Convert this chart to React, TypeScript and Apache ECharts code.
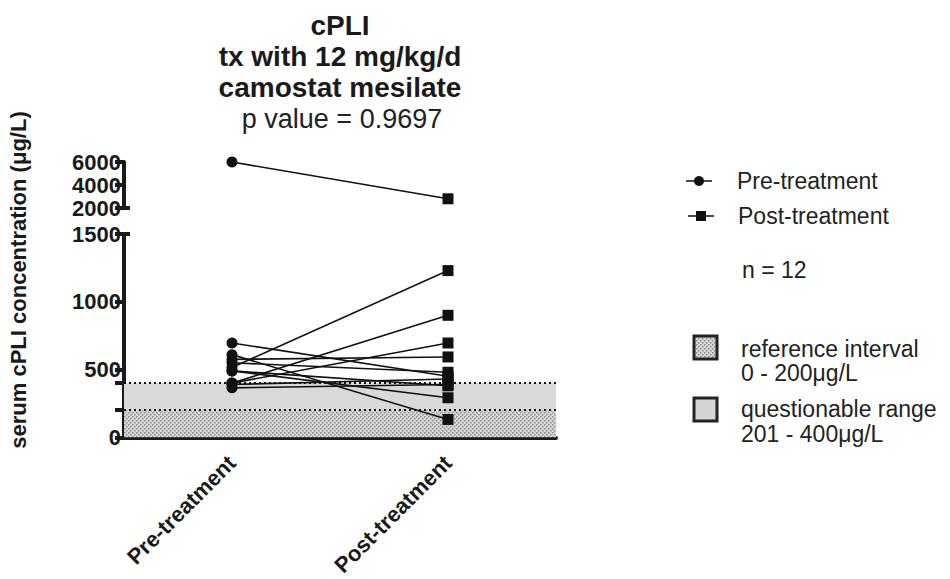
import React, { useEffect, useRef } from "react";
import * as echarts from "echarts";

const categories = ["Pre-treatment", "Post-treatment"];
// paired values per dog (µg/L)
const preValues = [6000, 696, 610, 575, 550, 515, 490, 490, 400, 400, 390, 365];
const postValues = [2800, 450, 132, 593, 480, 1230, 380, 292, 900, 696, 430, 390];
const upperTicks = [2000, 4000, 6000];
const lowerTicks = [0, 500, 1000, 1500];
const lowerMinorTicks = [0, 200, 400, 500, 1000, 1500];
const referenceInterval = [0, 200];
const questionableRange = [200, 400];
const breakValue = 1500;

const FONT = "'Liberation Sans', Arial, Helvetica, sans-serif";

function makeDotPattern(): HTMLCanvasElement {
  const c = document.createElement("canvas");
  c.width = 4;
  c.height = 4;
  const ctx = c.getContext("2d")!;
  ctx.fillStyle = "#d6d6d6";
  ctx.fillRect(0, 0, 4, 4);
  ctx.fillStyle = "#8c8c8c";
  ctx.fillRect(0, 0, 1.5, 1.5);
  ctx.fillRect(2, 2, 1.5, 1.5);
  return c;
}

export default function App() {
  const ref = useRef<HTMLDivElement>(null);
  useEffect(() => {
    if (!ref.current) return;
    const chart = echarts.init(ref.current, null, { renderer: "svg" });
    const pattern = { image: makeDotPattern(), repeat: "repeat" } as any;

    const pairSeries = preValues.map((pre, i) => {
      const post = postValues[i];
      const upper = pre > breakValue && post > breakValue;
      const s: any = {
        type: "line",
        name: "dog" + (i + 1),
        xAxisIndex: upper ? 0 : 1,
        yAxisIndex: upper ? 0 : 1,
        data: [
          { value: pre, symbol: "circle" },
          { value: post, symbol: "rect" },
        ],
        symbolSize: 11,
        showSymbol: true,
        itemStyle: { color: "#111" },
        lineStyle: { color: "#111", width: 1.6 },
        z: 5,
        silent: true,
      };
      return s;
    });

    const bandSeries: any = {
      type: "line",
      xAxisIndex: 1,
      yAxisIndex: 1,
      data: [],
      z: 1,
      silent: true,
      markArea: {
        silent: true,
        data: [
          [
            { yAxis: referenceInterval[0], itemStyle: { color: pattern } },
            { yAxis: referenceInterval[1] },
          ],
          [
            { yAxis: questionableRange[0], itemStyle: { color: "#d9d9d9" } },
            { yAxis: questionableRange[1] },
          ],
        ],
      },
      markLine: {
        silent: true,
        symbol: "none",
        label: { show: false },
        lineStyle: { color: "#111", type: [2, 3], width: 2 },
        data: [{ yAxis: referenceInterval[1] }, { yAxis: questionableRange[1] }],
      },
    };

    const axisLineStyle = { color: "#1a1a1a", width: 4 };
    const tickLabel = {
      color: "#1a1a1a",
      fontFamily: FONT,
      fontWeight: "bold",
      fontSize: 22,
      margin: 3,
      formatter: (v: any) => String(v),
    };

    const legendText = (text: string, x: number, y: number) => ({
      type: "text",
      x,
      y,
      style: { text, fill: "#222", font: `23px ${FONT}`, align: "left", verticalAlign: "middle" },
    });

    const option: any = {
      animation: false,
      grid: [
        { left: 124, width: 432, top: 162, height: 46 },
        { left: 124, width: 432, top: 234, height: 204 },
      ],
      xAxis: [
        { type: "category", gridIndex: 0, data: categories, show: false },
        {
          type: "category",
          gridIndex: 1,
          data: categories,
          axisLine: { lineStyle: axisLineStyle },
          axisTick: { alignWithLabel: true, length: 10, lineStyle: axisLineStyle },
          axisLabel: { ...tickLabel, rotate: 45, margin: 22 },
        },
      ],
      yAxis: [
        {
          type: "value",
          gridIndex: 0,
          min: upperTicks[0],
          max: upperTicks[upperTicks.length - 1],
          interval: 2000,
          axisLine: { show: true, lineStyle: axisLineStyle },
          axisTick: { show: true, length: 9, lineStyle: axisLineStyle },
          axisLabel: tickLabel,
          splitLine: { show: false },
        },
        {
          type: "value",
          gridIndex: 1,
          min: lowerTicks[0],
          max: lowerTicks[lowerTicks.length - 1],
          interval: 500,
          axisLine: { show: true, lineStyle: axisLineStyle },
          axisTick: { show: true, length: 9, lineStyle: axisLineStyle, customValues: lowerMinorTicks },
          axisLabel: { ...tickLabel, customValues: lowerTicks },
          splitLine: { show: false },
        },
      ],
      graphic: [
        {
          type: "text",
          x: 340,
          y: 25,
          style: { text: "cPLI", fill: "#1a1a1a", font: `bold 28px ${FONT}`, align: "center", verticalAlign: "middle" },
        },
        {
          type: "text",
          x: 340,
          y: 56,
          style: { text: "tx with 12 mg/kg/d", fill: "#1a1a1a", font: `bold 28px ${FONT}`, align: "center", verticalAlign: "middle" },
        },
        {
          type: "text",
          x: 340,
          y: 87,
          style: { text: "camostat mesilate", fill: "#1a1a1a", font: `bold 28px ${FONT}`, align: "center", verticalAlign: "middle" },
        },
        {
          type: "text",
          x: 342,
          y: 119,
          style: { text: "p value = 0.9697", fill: "#222", font: `27px ${FONT}`, align: "center", verticalAlign: "middle" },
        },
        {
          type: "text",
          x: 18,
          y: 280,
          rotation: Math.PI / 2,
          style: {
            text: "serum cPLI concentration (μg/L)",
            fill: "#1a1a1a",
            font: `bold 22px ${FONT}`,
            align: "center",
            verticalAlign: "middle",
          },
        },
        // axis-break tick extensions
        { type: "line", shape: { x1: 124, y1: 208, x2: 130, y2: 208 }, style: { stroke: "#1a1a1a", lineWidth: 4 } },
        { type: "line", shape: { x1: 124, y1: 234, x2: 130, y2: 234 }, style: { stroke: "#1a1a1a", lineWidth: 4 } },
        // legend: Pre-treatment
        { type: "line", shape: { x1: 686, y1: 181, x2: 712, y2: 181 }, style: { stroke: "#111", lineWidth: 1.5 } },
        { type: "circle", shape: { cx: 699, cy: 181, r: 5 }, style: { fill: "#111" } },
        legendText("Pre-treatment", 737, 181),
        // legend: Post-treatment
        { type: "line", shape: { x1: 688, y1: 216, x2: 714, y2: 216 }, style: { stroke: "#111", lineWidth: 1.5 } },
        { type: "rect", shape: { x: 696, y: 211, width: 10, height: 10 }, style: { fill: "#111" } },
        legendText("Post-treatment", 738, 216),
        legendText("n = 12", 742, 270),
        // band legend
        {
          type: "rect",
          shape: { x: 694, y: 336, width: 23, height: 23 },
          style: { fill: pattern, stroke: "#222", lineWidth: 3 },
        },
        legendText("reference interval", 741, 349),
        legendText("0 - 200μg/L", 741, 373),
        {
          type: "rect",
          shape: { x: 694, y: 398, width: 23, height: 23 },
          style: { fill: "#d4d4d4", stroke: "#222", lineWidth: 3 },
        },
        legendText("questionable range", 741, 409),
        legendText("201 - 400μg/L", 741, 434),
      ],
      series: [bandSeries, ...pairSeries],
    };
    chart.setOption(option);
    return () => chart.dispose();
  }, []);
  return (
    <div
      ref={ref}
      style={{ position: "fixed", left: 0, top: 0, width: 950, height: 579, background: "#fff" }}
    />
  );
}
